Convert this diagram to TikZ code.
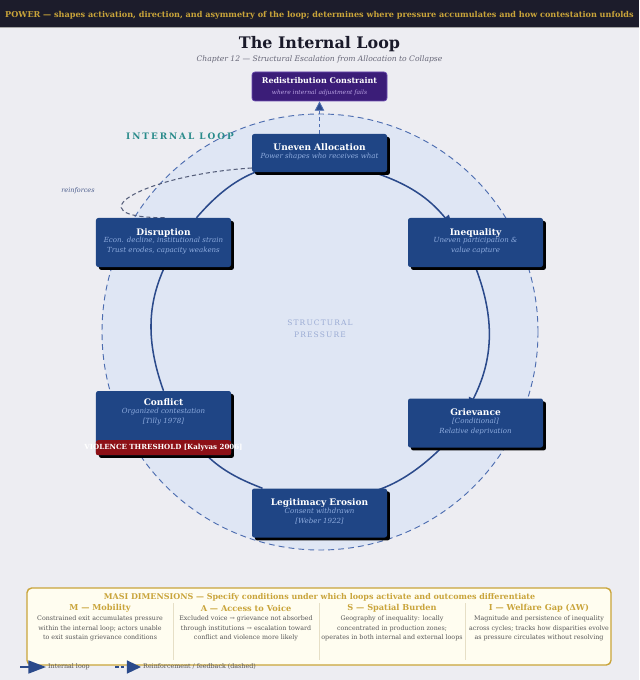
\documentclass[tikz,border=0pt]{standalone}
\usepackage{fontspec}
\setmainfont{DejaVu Serif}
\usetikzlibrary{calc,arrows.meta,shadows}

\pgfdeclarelayer{background}
\pgfsetlayers{background,main}

\definecolor{pagebg}{HTML}{EDEDF2}
\definecolor{bannerbg}{HTML}{1C1C2B}
\definecolor{gold}{HTML}{C9A43A}
\definecolor{titleink}{HTML}{1A1A2A}
\definecolor{subink}{HTML}{666677}
\definecolor{poolfill}{HTML}{DFE6F4}
\definecolor{pooldash}{HTML}{4D6DB0}
\definecolor{loopblue}{HTML}{2B4A8B}
\definecolor{stagefill}{HTML}{1F4585}
\definecolor{stagesub}{HTML}{8EACDF}
\definecolor{purplefill}{HTML}{3B1D78}
\definecolor{purpleline}{HTML}{6B4BB0}
\definecolor{purplesub}{HTML}{B9A3E3}
\definecolor{loopteal}{HTML}{2A8B8B}
\definecolor{pressink}{HTML}{9AABD4}
\definecolor{reinfink}{HTML}{4A5C8C}
\definecolor{reinfdash}{HTML}{555E7A}
\definecolor{threshred}{HTML}{8C1016}
\definecolor{masifill}{HTML}{FFFDF0}
\definecolor{masirule}{HTML}{E6DFC6}
\definecolor{bodyink}{HTML}{555555}

\newcommand{\stagetitle}[1]{{\fontsize{7.7}{8}\selectfont\bfseries #1}}
\newcommand{\stagesubtext}[1]{{\color{stagesub}\itshape #1}}

\tikzset{
    stage/.style={fill=stagefill, rounded corners=2pt, minimum width=4.05cm, minimum height=1.47cm,
        text=white, align=center, inner sep=0pt, font=\fontsize{6}{7.2}\selectfont,
        drop shadow={shadow xshift=2.5pt, shadow yshift=-2.5pt, fill=black, opacity=1}},
    loopline/.style={draw=loopblue, line width=1.3pt, -{Triangle[length=10pt,width=8pt]}},
    reinforce/.style={draw=reinfdash, line width=0.9pt, dash pattern=on 3.5pt off 2.5pt},
    feedback/.style={draw=pooldash, line width=0.7pt, dash pattern=on 3pt off 2.5pt,
        -{Triangle[length=8pt,width=8pt,fill=loopblue]}},
    colhead/.style={text=gold, font=\fontsize{7}{8}\selectfont\bfseries, inner sep=0pt},
    colbody/.style={text=bodyink, font=\fontsize{5.4}{8}\selectfont, align=center, inner sep=0pt}
}

\begin{document}
\begin{tikzpicture}[x=0.03cm,y=-0.03cm]
    \useasboundingbox (0,0) rectangle (639,680);

    % 标题栏
    \node[text=gold, font=\fontsize{6.92}{8}\selectfont\bfseries, inner sep=0pt] (powerline) at (319.5,15)
        {POWER — shapes activation, direction, and asymmetry of the loop; determines where pressure accumulates and how contestation unfolds};
    \node[text=titleink, font=\fontsize{13.6}{15}\selectfont\bfseries, inner sep=0pt] (title) at (319.5,44) {The Internal Loop};
    \node[text=subink, font=\fontsize{6.5}{7}\selectfont\itshape, inner sep=0pt] (subtitle) at (319.5,59)
        {Chapter 12 — Structural Escalation from Allocation to Collapse};

    % 循环中的各个阶段
    \node[stage, minimum height=1.14cm] (alloc) at (319.5,153)
        {\stagetitle{Uneven Allocation}\\[-1pt]\stagesubtext{Power shapes who receives what}\\[-4pt]\mbox{}};
    \node[stage] (ineq) at (475.5,242.5)
        {\stagetitle{Inequality}\\[-1pt]\stagesubtext{Uneven participation \&}\\[1.3pt]\stagesubtext{value capture}\\[-4pt]\mbox{}};
    \node[stage] (griev) at (475.5,423)
        {\stagetitle{Grievance}\\[-1pt]\stagesubtext{[Conditional]}\\[1.3pt]\stagesubtext{Relative deprivation}\\[-4pt]\mbox{}};
    \node[stage] (legit) at (319.5,513)
        {\stagetitle{Legitimacy Erosion}\\[-1pt]\stagesubtext{Consent withdrawn}\\[1.3pt]\stagesubtext{[Weber 1922]}\\[-4pt]\mbox{}};
    \node[stage, minimum height=1.92cm] (conf) at (163.5,423)
        {\stagetitle{Conflict}\\[-1pt]\stagesubtext{Organized contestation}\\[1.3pt]\stagesubtext{[Tilly 1978]}\\[13pt]\mbox{}};
    \node[stage] (dis) at (163.5,242.5)
        {\stagetitle{Disruption}\\[-1pt]\stagesubtext{Econ. decline, institutional strain}\\[1.3pt]\stagesubtext{Trust erodes, capacity weakens}\\[-4pt]\mbox{}};

    \fill[threshred, rounded corners=2pt] ($(conf.south west)+(0,-15)$) rectangle (conf.south east);
    \node[text=white, font=\fontsize{6}{7}\selectfont\bfseries, inner sep=0pt] (threshold) at ($(conf.south)+(0,-7.5)$)
        {VIOLENCE THRESHOLD [Kalyvas 2006]};

    \node[fill=purplefill, draw=purpleline, line width=0.6pt, rounded corners=2.5pt, minimum width=4.05cm,
        minimum height=0.87cm, inner sep=0pt, align=center, text=white, font=\fontsize{5.1}{6.2}\selectfont] (redis) at (319.5,86.5)
        {{\fontsize{6.8}{7}\selectfont\bfseries Redistribution Constraint}\\[3pt]{\color{purplesub}\itshape where internal adjustment fails}};
    \draw[feedback] (alloc.north) -- (redis.south);

    \node[text=loopteal, font=\fontsize{7.6}{8}\selectfont\bfseries\addfontfeature{LetterSpace=22}, inner sep=0pt] (looplabel) at (180,136) {INTERNAL LOOP};
    \node[text=reinfink, font=\fontsize{5.5}{6}\selectfont\itshape, inner sep=0pt] (reinflabel) at (78,191) {reinforces};
    \node[text=pressink, font=\fontsize{6.4}{10.2}\selectfont\addfontfeature{LetterSpace=15}, align=center, inner sep=0pt] (pressure) at (320,329)
        {STRUCTURAL\\PRESSURE};

    % 背景与连线
    \begin{pgfonlayer}{background}
        \fill[pagebg] (0,0) rectangle (639,680);
        \fill[bannerbg] (0,0) rectangle (639,27);
        \draw[gray!70, line width=0.8pt] (0,27.5) -- (639,27.5);
        \draw[fill=poolfill, draw=pooldash, line width=0.8pt, dash pattern=on 5pt off 3.5pt] (320,332) circle[radius=6.54cm];

        \draw[loopline] ($(dis.north)+(33,0)$) to[bend left=18] ($(alloc.south)+(-33,-9)$);
        \draw[loopline] ($(alloc.south)+(54,0)$) to[bend left=16] ($(ineq.north)+(-23,9)$);
        \draw[loopline] (ineq.south) to[bend left=24] ($(griev.north)+(-7.5,11)$);
        \draw[loopline] ($(griev.south)+(-34,0)$) to[bend left=20] ($(legit.north)+(10,10)$);
        \draw[loopline] ($(legit.north)+(-57,0)$) to[bend left=12] ($(conf.south)+(34,-9)$);
        \draw[loopline] (conf.north) to[bend left=22] ($(dis.south)+(5.5,-10)$);

        \draw[reinforce] ($(alloc.west)+(0,15)$) .. controls +(-110,7) and +(-95,0) .. ($(dis.north)+(2,0)$);
    \end{pgfonlayer}

    % MASI 说明框
    \draw[fill=masifill, draw=gold, line width=1.2pt, rounded corners=4pt] (27,588) rectangle (611,665);
    \draw[masirule, line width=0.5pt] (173,603) -- (173,660);
    \draw[masirule, line width=0.5pt] (319,603) -- (319,660);
    \draw[masirule, line width=0.5pt] (465,603) -- (465,660);
    \node[text=gold, font=\fontsize{6.8}{8}\selectfont\bfseries, inner sep=0pt] (masititle) at (319.5,597)
        {MASI DIMENSIONS — Specify conditions under which loops activate and outcomes differentiate};

    \node[colhead] (mhead) at (100,608) {M — Mobility};
    \node[colhead] (ahead) at (246,608) {A — Access to Voice};
    \node[colhead] (shead) at (392,608) {S — Spatial Burden};
    \node[colhead] (ihead) at (539,608) {I — Welfare Gap (ΔW)};

    \node[colbody] (mbody) at (100,628.5) {Constrained exit accumulates pressure\\within the internal loop; actors unable\\to exit sustain grievance conditions};
    \node[colbody] (abody) at (246,628.5) {Excluded voice → grievance not absorbed\\through institutions → escalation toward\\conflict and violence more likely};
    \node[colbody] (sbody) at (392,628.5) {Geography of inequality: locally\\concentrated in production zones;\\operates in both internal and external loops};
    \node[colbody] (ibody) at (539,628.5) {Magnitude and persistence of inequality\\across cycles; tracks how disparities evolve\\as pressure circulates without resolving};

    % 图例
    \coordinate (solidfrom) at (20,667);
    \coordinate (solidto) at (46,667);
    \coordinate (dashfrom) at (115,667);
    \coordinate (dashto) at (141,667);
    \draw[loopblue, line width=1.5pt, -{Triangle[length=15pt,width=11pt]}] (solidfrom) -- (solidto);
    \draw[loopblue, line width=1.5pt, dash pattern=on 3pt off 2pt, -{Triangle[length=12pt,width=11pt]}] (dashfrom) -- (dashto);
    \node[text=bodyink, font=\fontsize{5.4}{6}\selectfont, anchor=west, inner sep=0pt] (solidkey) at (48,667) {Internal loop};
    \node[text=bodyink, font=\fontsize{5.4}{6}\selectfont, anchor=west, inner sep=0pt] (dashkey) at (143,667) {Reinforcement / feedback (dashed)};
\end{tikzpicture}
\end{document}
